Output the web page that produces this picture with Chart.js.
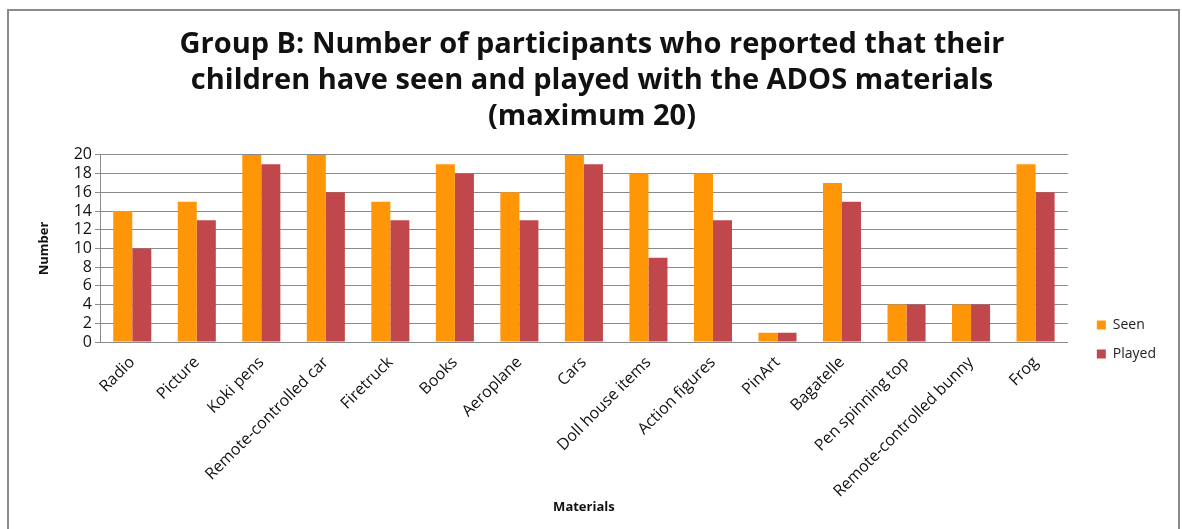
<!DOCTYPE html>
<html lang="en">
<head>
    <meta charset="UTF-8">
    <title>Group B: ADOS materials seen and played</title>
    <script src="https://cdn.jsdelivr.net/npm/chart.js"></script>
    <style>
        html, body {
            margin: 0;
            padding: 0;
            background: #fff;
            overflow: hidden;
        }
        #wrap {
            position: relative;
            width: 1182px;
            height: 529px;
        }
        #frame {
            position: absolute;
            left: 7px;
            top: 9px;
            width: 1173px;
            height: 560px;
            border: 2px solid #8a8a8a;
            box-sizing: border-box;
            pointer-events: none;
        }
    </style>
</head>
<body>
<div id="wrap">
    <canvas id="materialsChart" width="1182" height="529"></canvas>
    <div id="frame"></div>
</div>

<script>
    const materials = ['Radio', 'Picture', 'Koki pens', 'Remote-controlled car', 'Firetruck', 'Books',
        'Aeroplane', 'Cars', 'Doll house items', 'Action figures', 'PinArt', 'Bagatelle',
        'Pen spinning top', 'Remote-controlled bunny', 'Frog'];
    const seen = [14, 15, 20, 20, 15, 19, 16, 20, 18, 18, 1, 17, 4, 4, 19];
    const played = [10, 13, 19, 16, 13, 18, 13, 19, 9, 13, 1, 15, 4, 4, 16];
    const yTicks = [0, 2, 4, 6, 8, 10, 12, 14, 16, 18, 20];

    const font = "'Open Sans', sans-serif";

    // nudges the right-hand legend down beside the lower part of the plot
    const legendShift = {
        id: 'legendShift',
        afterLayout(chart) {
            const l = chart.legend;
            l.top += 80; l.bottom += 80;
            l.left += 14; l.right += 14;
        }
    };

    let ctx = document.getElementById('materialsChart').getContext('2d');
    new Chart(ctx, {
        type: 'bar',
        data: {
            labels: materials,
            datasets: [{
                label: 'Seen',
                data: seen,
                backgroundColor: '#ff9608',
                borderWidth: 0
            }, {
                label: 'Played',
                data: played,
                backgroundColor: '#c0484c',
                borderWidth: 0
            }]
        },
        plugins: [legendShift],
        options: {
            responsive: false,
            animation: false,
            layout: {
                padding: { left: 32, right: 30, top: 0, bottom: 10 }
            },
            datasets: {
                bar: {
                    categoryPercentage: 0.59,
                    barPercentage: 1.0
                }
            },
            plugins: {
                tooltip: { enabled: false },
                title: {
                    display: true,
                    text: ['Group B: Number of participants who reported that their',
                        'children have seen and played with the ADOS materials',
                        '(maximum 20)'],
                    color: '#111',
                    font: { family: font, size: 29, weight: 'bold', lineHeight: 1.24 },
                    padding: { top: 27, bottom: 20 }
                },
                legend: {
                    position: 'right',
                    labels: {
                        color: '#222',
                        boxWidth: 9,
                        boxHeight: 9,
                        padding: 15,
                        font: { family: font, size: 14 }
                    }
                }
            },
            scales: {
                x: {
                    grid: { display: false },
                    border: { color: '#8a8a8a' },
                    ticks: {
                        color: '#111',
                        minRotation: 45,
                        maxRotation: 45,
                        autoSkip: false,
                        font: { family: font, size: 16 }
                    },
                    title: {
                        display: true,
                        text: 'Materials',
                        color: '#111',
                        font: { family: font, size: 13, weight: 'bold' }
                    },
                    afterFit: (scale) => { scale.height = 177; }
                },
                y: {
                    min: 0,
                    max: 20,
                    afterBuildTicks: (scale) => {
                        scale.ticks = yTicks.map(v => ({ value: v }));
                    },
                    grid: { color: '#8a8a8a', drawTicks: true, tickLength: 5 },
                    border: { color: '#8a8a8a' },
                    ticks: {
                        color: '#111',
                        padding: 3,
                        autoSkip: false,
                        font: { family: font, size: 16 }
                    },
                    title: {
                        display: true,
                        text: 'Number',
                        color: '#111',
                        font: { family: font, size: 13, weight: 'bold' }
                    },
                    afterFit: (scale) => { scale.width = 68; }
                }
            }
        }
    });
</script>
</body>
</html>
